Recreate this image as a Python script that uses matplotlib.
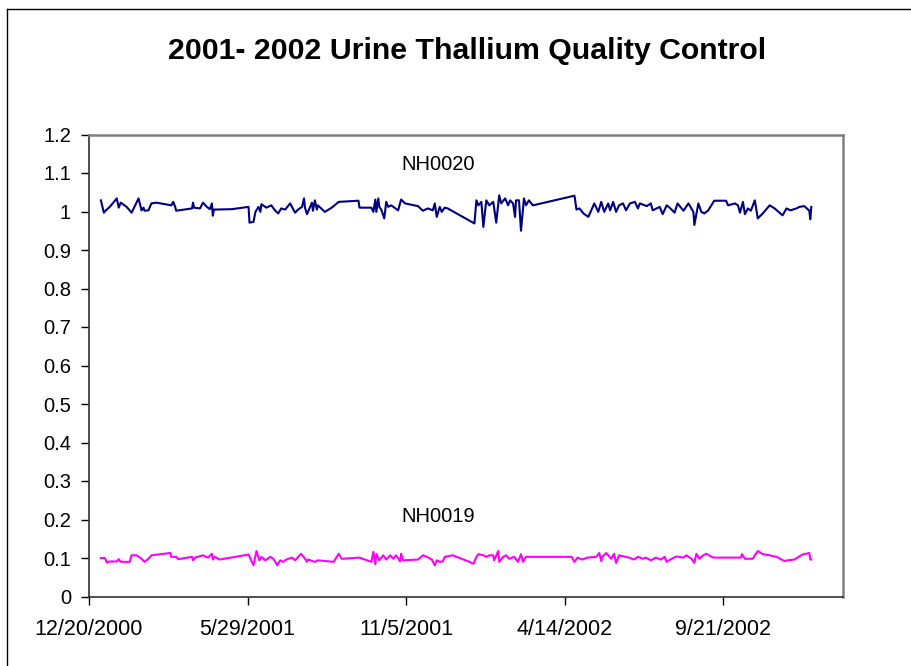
import matplotlib
matplotlib.use("Agg")
import matplotlib.pyplot as plt
import matplotlib.dates as mdates
from matplotlib.lines import Line2D
import numpy as np
import pandas as pd

plt.rcParams['font.family'] = ['Liberation Sans', 'DejaVu Sans']

START = pd.Timestamp('2000-12-20')

# days after 12/20/2000
nh0020_day = [12, 15, 17, 21, 28, 30, 32, 38, 43, 50, 53, 55, 56, 60, 63, 68, 83, 85, 87, 88,
              104, 105, 106, 112, 115, 119, 122, 124, 125, 126, 144, 161, 162, 166, 168, 171,
              173, 174, 179, 184, 188, 191, 194, 198, 203, 208, 211, 215, 217, 218, 220, 225,
              226, 228, 230, 231, 238, 245, 252, 272, 273, 285, 287, 289, 290, 292, 293, 295,
              298, 300, 302, 305, 312, 315, 319, 332, 337, 342, 347, 349, 351, 354, 356, 359,
              362, 389, 391, 393, 396, 398, 401, 404, 408, 411, 414, 416, 420, 423, 425, 428,
              430, 431, 434, 436, 439, 441, 444, 448, 490, 492, 495, 499, 504, 510, 514, 517,
              520, 524, 526, 529, 532, 535, 539, 542, 546, 551, 554, 556, 563, 567, 569, 576,
              579, 583, 586, 591, 594, 600, 605, 610, 611, 615, 618, 621, 625, 631, 643, 645,
              652, 655, 657, 660, 662, 665, 668, 672, 675, 680, 687, 692, 700, 704, 708, 714,
              717, 722, 727, 728, 729]
nh0020_val = [1.029, 0.997, 1.003, 1.012, 1.034, 1.010, 1.023, 1.012, 0.997, 1.034, 1.003, 1.010,
              1.002, 1.003, 1.021, 1.023, 1.016, 1.025, 1.012, 1.002, 1.008, 1.023, 1.010, 1.008,
              1.023, 1.012, 1.006, 1.021, 0.989, 1.005, 1.006, 1.012, 0.971, 0.973, 0.999, 1.012,
              0.999, 1.019, 1.010, 1.016, 1.002, 0.995, 1.008, 1.005, 1.021, 0.997, 1.005, 1.012,
              1.034, 1.010, 0.993, 1.023, 1.002, 1.029, 1.005, 1.016, 0.999, 1.010, 1.025, 1.028,
              1.010, 1.010, 0.999, 1.031, 0.999, 1.034, 1.012, 1.005, 0.982, 1.025, 1.012, 1.016,
              1.003, 1.031, 1.021, 1.014, 1.002, 1.008, 1.003, 1.021, 0.986, 1.012, 0.999, 1.010,
              1.008, 0.969, 1.029, 1.016, 1.025, 0.960, 1.029, 1.016, 1.025, 0.971, 1.042, 1.021,
              1.034, 1.016, 1.029, 1.021, 0.986, 1.029, 1.029, 0.950, 1.034, 1.016, 1.029, 1.016,
              1.041, 1.005, 1.008, 0.995, 0.986, 1.021, 0.999, 1.025, 0.999, 1.021, 1.003, 1.025,
              0.999, 1.016, 1.021, 1.003, 1.021, 1.025, 1.008, 1.021, 1.014, 1.021, 1.003, 1.012,
              0.993, 1.016, 1.010, 0.997, 1.021, 1.002, 1.021, 0.999, 0.965, 1.021, 0.999, 0.995,
              1.003, 1.028, 1.028, 1.016, 1.021, 1.016, 0.997, 1.025, 0.993, 1.008, 1.002, 1.029,
              0.982, 0.995, 1.016, 1.008, 0.990, 1.008, 1.003, 1.008, 1.012, 1.014, 1.002, 0.980,
              1.012]

nh0019_day = [12, 14, 16, 18, 21, 28, 30, 32, 41, 43, 48, 53, 56, 60, 63, 82, 83, 88, 90, 104,
              105, 107, 115, 120, 124, 125, 127, 132, 161, 166, 169, 172, 174, 178, 183, 186,
              188, 190, 193, 196, 199, 205, 208, 214, 218, 220, 221, 228, 231, 247, 252, 255,
              273, 285, 287, 289, 290, 293, 297, 300, 304, 307, 310, 314, 315, 317, 332, 337,
              341, 346, 349, 351, 354, 357, 359, 367, 384, 388, 391, 393, 398, 401, 404, 408,
              409, 413, 414, 418, 421, 424, 429, 433, 436, 438, 441, 487, 490, 493, 498, 503,
              512, 515, 517, 518, 522, 527, 530, 532, 535, 540, 545, 550, 554, 559, 562, 567,
              572, 577, 581, 583, 588, 593, 600, 603, 608, 611, 613, 616, 620, 623, 630, 643,
              658, 659, 662, 670, 672, 675, 680, 687, 694, 702, 705, 712, 720, 727, 728, 729]
nh0019_val = [0.100, 0.100, 0.100, 0.088, 0.091, 0.091, 0.097, 0.090, 0.090, 0.107, 0.107, 0.098,
              0.090, 0.098, 0.107, 0.113, 0.103, 0.103, 0.097, 0.103, 0.094, 0.101, 0.107, 0.101,
              0.111, 0.096, 0.103, 0.096, 0.109, 0.081, 0.118, 0.094, 0.103, 0.094, 0.103, 0.098,
              0.090, 0.081, 0.094, 0.090, 0.096, 0.101, 0.094, 0.111, 0.098, 0.090, 0.096, 0.090,
              0.094, 0.090, 0.111, 0.098, 0.101, 0.090, 0.116, 0.084, 0.111, 0.094, 0.107, 0.096,
              0.107, 0.098, 0.107, 0.091, 0.111, 0.094, 0.096, 0.107, 0.103, 0.096, 0.081, 0.094,
              0.090, 0.091, 0.103, 0.107, 0.090, 0.085, 0.103, 0.110, 0.107, 0.103, 0.107, 0.107,
              0.094, 0.118, 0.090, 0.103, 0.107, 0.098, 0.103, 0.090, 0.110, 0.090, 0.103, 0.103,
              0.090, 0.101, 0.096, 0.101, 0.103, 0.113, 0.092, 0.103, 0.113, 0.098, 0.111, 0.087,
              0.107, 0.104, 0.101, 0.096, 0.103, 0.098, 0.101, 0.094, 0.101, 0.096, 0.103, 0.090,
              0.098, 0.104, 0.101, 0.107, 0.098, 0.087, 0.111, 0.098, 0.107, 0.111, 0.101, 0.101,
              0.101, 0.110, 0.098, 0.098, 0.107, 0.118, 0.110, 0.107, 0.103, 0.092, 0.094, 0.096,
              0.109, 0.113, 0.096, 0.096]

title = "2001- 2002 Urine Thallium Quality Control"
x_ticks_days = [0, 160, 320, 480, 640]
x_max_days = 761
y_ticks = [0, 0.1, 0.2, 0.3, 0.4, 0.5, 0.6, 0.7, 0.8, 0.9, 1, 1.1, 1.2]


def to_dates(days):
    return START + pd.to_timedelta(np.array(days), unit='D')


fig = plt.figure(figsize=(9.11, 6.66), dpi=100)
ax = fig.add_axes([89 / 911, 1 - 596.5 / 666, (843 - 89) / 911, (596.5 - 134.5) / 666])

ax.plot(to_dates(nh0020_day), nh0020_val, color='#000080', lw=1.5)
ax.plot(to_dates(nh0019_day), nh0019_val, color='#FF00FF', lw=1.5)

ax.set_xlim(START, START + pd.Timedelta(days=x_max_days))
ax.set_ylim(0, 1.2)
ax.set_xticks(to_dates(x_ticks_days))
ax.xaxis.set_major_formatter(plt.FuncFormatter(
    lambda v, p: (lambda d: f"{d.month}/{d.day}/{d.year}")(mdates.num2date(v))))
ax.set_yticks(y_ticks)
ax.yaxis.set_major_formatter(plt.FuncFormatter(lambda v, p: f"{v:g}"))

ax.tick_params(axis='both', direction='out', length=6, width=1, colors='black')
ax.tick_params(axis='y', pad=7, labelsize=14.5)
ax.tick_params(axis='x', pad=10, labelsize=15.5)

for side in ['top', 'right']:
    ax.spines[side].set_color('#808080')
    ax.spines[side].set_linewidth(1.8)
for side in ['left', 'bottom']:
    ax.spines[side].set_color('#303030')
    ax.spines[side].set_linewidth(1.2)

label_day = START + pd.Timedelta(days=352)
ax.text(label_day, 1.123, "NH0020", ha='center', va='center', fontsize=14.5)
ax.text(label_day, 0.207, "NH0019", ha='center', va='center', fontsize=14.5)

fig.text(467 / 911, 1 - 51 / 666, title, ha='center', va='center',
         fontsize=21.8, fontweight='bold')

# chart area border (only top and left edges fall inside the picture)
fig.add_artist(Line2D([7 / 911, 7 / 911], [0, 1 - 9 / 666], color='black', lw=1,
                      transform=fig.transFigure))
fig.add_artist(Line2D([7 / 911, 1], [1 - 9 / 666, 1 - 9 / 666], color='black', lw=1,
                      transform=fig.transFigure))

fig.savefig('out.png', dpi=100)
